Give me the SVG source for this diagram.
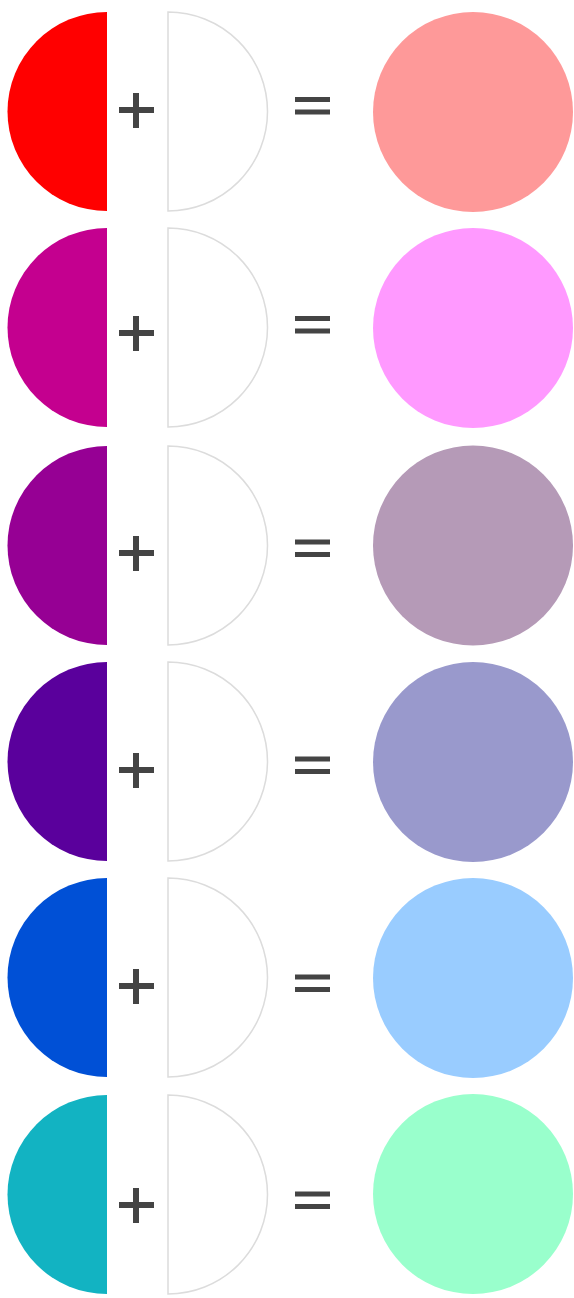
<svg xmlns="http://www.w3.org/2000/svg" width="574" height="1298" viewBox="0 0 574 1298">
<style>
.w{fill:#fff;stroke:#dcdcdc;stroke-width:1.5}
.op{stroke:#444;stroke-width:6;fill:none}
.eq{stroke:#444;stroke-width:5;fill:none}
</style>
<defs>
<path id="lh" d="M107,12 A99.5,99.5 0 0 0 107,211 Z"/>
<path id="rh" d="M168,12 A99.5,99.5 0 0 1 168,211 Z"/>
</defs>
<rect width="574" height="1298" fill="#fff"/>
<g id="row1">
<use href="#lh" fill="#ff0000"/>
<use href="#rh" class="w"/>
<path class="op" d="M119,110H154M136,93V128"/>
<path class="eq" d="M295,99.5H330M295,112H330"/>
<circle cx="473" cy="112" r="100" fill="#fe9999"/>
</g>
<g id="row2" transform="translate(0,216)">
<use href="#lh" fill="#c4008f"/>
<use href="#rh" class="w"/>
<path class="op" d="M119,117H154M136,100V135"/>
<path class="eq" d="M295,102.5H330M295,115H330"/>
<circle cx="473" cy="112" r="100" fill="#ff99ff"/>
</g>
<g id="row3" transform="translate(0,434)">
<use href="#lh" fill="#960094"/>
<use href="#rh" class="w"/>
<path class="op" d="M119,119H154M136,102V137"/>
<path class="eq" d="M295,108H330M295,120.5H330"/>
<circle cx="473" cy="111.5" r="100" fill="#b59ab7"/>
</g>
<g id="row4" transform="translate(0,650)">
<use href="#lh" fill="#5a009c"/>
<use href="#rh" class="w"/>
<path class="op" d="M119,120H154M136,103V138"/>
<path class="eq" d="M295,109H330M295,121.5H330"/>
<circle cx="473" cy="112" r="100" fill="#9999cc"/>
</g>
<g id="row5" transform="translate(0,866)">
<use href="#lh" fill="#0050d6"/>
<use href="#rh" class="w"/>
<path class="op" d="M119,120H154M136,103V138"/>
<path class="eq" d="M295,111H330M295,123.5H330"/>
<circle cx="473" cy="112" r="100" fill="#99ccff"/>
</g>
<g id="row6" transform="translate(0,1083)">
<use href="#lh" fill="#12b3c2"/>
<use href="#rh" class="w"/>
<path class="op" d="M119,122H154M136,105V140"/>
<path class="eq" d="M295,111H330M295,123.5H330"/>
<circle cx="473" cy="111" r="100" fill="#99ffcc"/>
</g>
</svg>
